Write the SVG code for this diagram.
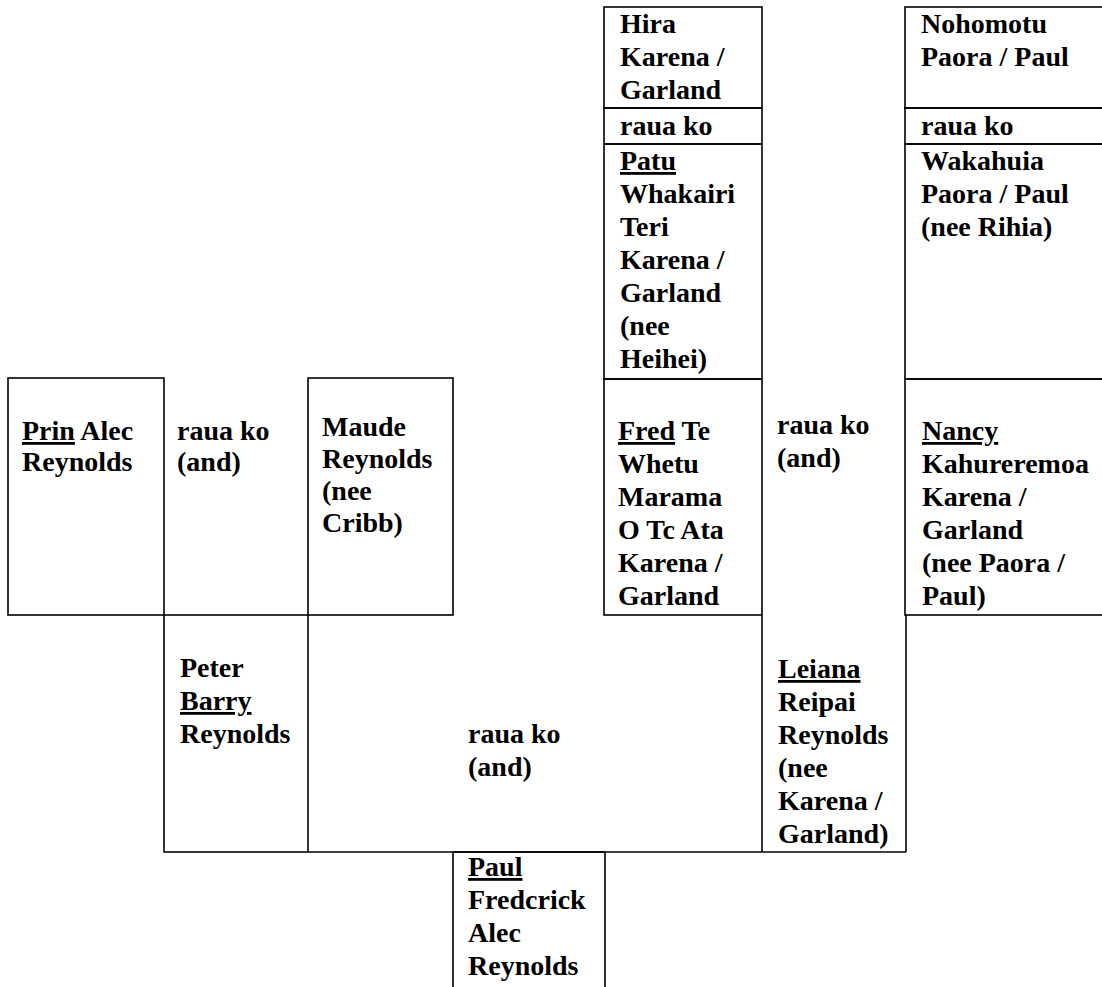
<svg xmlns="http://www.w3.org/2000/svg" width="1102" height="987" viewBox="0 0 1102 987">
<style>
.b{fill:none;stroke:#000;stroke-width:1.6}
.t{font-family:"Liberation Serif","Times New Roman",serif;font-weight:bold;font-size:28px;fill:#000}
.u{text-decoration:underline}
</style>
<rect x="0" y="0" width="1102" height="987" fill="#fff"/>
<g id="hira"><rect class="b" x="604" y="7" width="158" height="101"/>
<text class="t" x="620" y="33">Hira</text><text class="t" x="620" y="66">Karena /</text><text class="t" x="620" y="99">Garland</text></g>
<g id="rauako1"><rect class="b" x="604" y="108" width="158" height="36"/><text class="t" x="620" y="135">raua ko</text></g>
<g id="patu"><rect class="b" x="604" y="144" width="158" height="235"/>
<text class="t" x="620" y="170"><tspan class="u">Patu</tspan></text>
<text class="t" x="620" y="203">Whakairi</text><text class="t" x="620" y="236">Teri</text><text class="t" x="620" y="269">Karena /</text><text class="t" x="620" y="302">Garland</text><text class="t" x="620" y="335">(nee</text><text class="t" x="620" y="368">Heihei)</text></g>
<g id="nohomotu"><rect class="b" x="905" y="7" width="200" height="101"/>
<text class="t" x="921" y="33">Nohomotu</text><text class="t" x="921" y="66">Paora / Paul</text></g>
<g id="rauako2"><rect class="b" x="905" y="108" width="200" height="36"/><text class="t" x="921" y="135">raua ko</text></g>
<g id="wakahuia"><rect class="b" x="905" y="144" width="200" height="235"/>
<text class="t" x="921" y="170">Wakahuia</text><text class="t" x="921" y="203">Paora / Paul</text><text class="t" x="921" y="236">(nee Rihia)</text></g>
<g id="prin"><rect class="b" x="8" y="378" width="156" height="237"/>
<text class="t" x="22" y="440"><tspan class="u">Prin</tspan> Alec</text><text class="t" x="22" y="471">Reynolds</text></g>
<g id="rauako3"><text class="t" x="177" y="440">raua ko</text><text class="t" x="177" y="471">(and)</text></g>
<g id="maude"><rect class="b" x="308" y="378" width="145" height="237"/>
<text class="t" x="322" y="436">Maude</text><text class="t" x="322" y="468">Reynolds</text><text class="t" x="322" y="500">(nee</text><text class="t" x="322" y="532">Cribb)</text></g>
<g id="fred"><rect class="b" x="604" y="379" width="158" height="236"/>
<text class="t" x="618" y="440"><tspan class="u">Fred</tspan> Te</text><text class="t" x="618" y="473">Whetu</text><text class="t" x="618" y="506">Marama</text><text class="t" x="618" y="539">O Tc Ata</text><text class="t" x="618" y="572">Karena /</text><text class="t" x="618" y="605">Garland</text></g>
<g id="rauako4"><text class="t" x="777" y="434">raua ko</text><text class="t" x="777" y="467">(and)</text></g>
<g id="nancy"><rect class="b" x="905" y="379" width="200" height="236"/>
<text class="t" x="922" y="440"><tspan class="u">Nancy</tspan></text><text class="t" x="922" y="473">Kahureremoa</text><text class="t" x="922" y="506">Karena /</text><text class="t" x="922" y="539">Garland</text><text class="t" x="922" y="572">(nee Paora /</text><text class="t" x="922" y="605">Paul)</text></g>
<g id="peter"><rect class="b" x="164" y="615" width="144" height="237"/>
<text class="t" x="180" y="677">Peter</text><text class="t" x="180" y="710"><tspan class="u">Barry</tspan></text><text class="t" x="180" y="743">Reynolds</text></g>
<g id="rauako5"><text class="t" x="468" y="743">raua ko</text><text class="t" x="468" y="776">(and)</text></g>
<g id="leiana">
<text class="t" x="778" y="678"><tspan class="u">Leiana</tspan></text><text class="t" x="778" y="711">Reipai</text><text class="t" x="778" y="744">Reynolds</text><text class="t" x="778" y="777">(nee</text><text class="t" x="778" y="810">Karena /</text><text class="t" x="778" y="843">Garland)</text></g>
<g id="paul"><rect class="b" x="453" y="852" width="152" height="140"/>
<text class="t" x="468" y="876"><tspan class="u">Paul</tspan></text><text class="t" x="468" y="909">Fredcrick</text><text class="t" x="468" y="942">Alec</text><text class="t" x="468" y="975">Reynolds</text></g>
<g id="connectors" class="b">
<line x1="308" y1="852" x2="906" y2="852"/>
<line x1="762" y1="615" x2="762" y2="852"/>
<line x1="906" y1="615" x2="906" y2="852"/>
</g>
</svg>
